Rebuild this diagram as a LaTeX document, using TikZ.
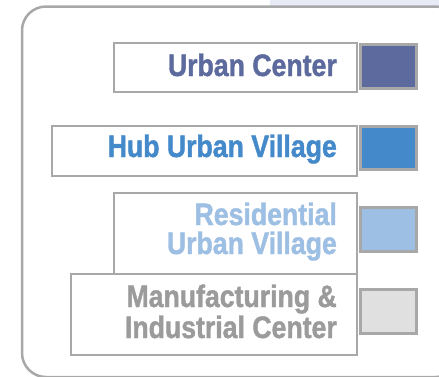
\documentclass[tikz,border=0pt]{standalone}
\usepackage{fontspec}
\setmainfont{Liberation Sans}[FakeStretch=0.86,BoldFeatures={FakeBold=1.3}]
\definecolor{bordergray}{HTML}{A8A8A8}
\definecolor{band}{HTML}{E7EBF6}
\definecolor{ucblue}{HTML}{5C6A9D}
\definecolor{hubblue}{HTML}{4489CA}
\definecolor{resblue}{HTML}{9DBFE3}
\definecolor{manufill}{HTML}{E0E0E0}
\definecolor{manutext}{HTML}{9B9B9B}
\tikzset{
  labelbox/.style={draw=bordergray, line width=2pt, fill=white, rectangle, inner sep=0pt},
  swatch/.style={draw=bordergray, line width=3pt, rectangle, inner sep=0pt, minimum width=56pt},
  labeltext/.style={anchor=base east, inner sep=0pt, font=\bfseries\fontsize{31}{31}\selectfont}
}
\begin{document}
\begin{tikzpicture}[x=1pt,y=-1pt]
\useasboundingbox (0,0) rectangle (439,376);
\clip (0,0) rectangle (439,376);
% light band at top
\fill[band] (270,0) rectangle (439,6);
% frame
\draw[bordergray, line width=2.5pt, rounded corners=24pt] (22,6.5) rectangle (460,377);
% label boxes
\node[labelbox, minimum width=242.4pt, minimum height=49.3pt] (ucbox) at (235.5,67.35) {};
\node[labelbox, minimum width=305pt, minimum height=50pt] (hubbox) at (204.2,150.7) {};
\node[labelbox, minimum width=242.4pt, minimum height=80.4pt] (resbox) at (235.5,233.5) {};
\node[labelbox, minimum width=285.7pt, minimum height=81.6pt] (manubox) at (213.85,314.5) {};
% swatches
\node[swatch, fill=ucblue, minimum height=44pt] (ucsw) at (388.5,66.5) {};
\node[swatch, fill=hubblue, minimum height=43.3pt] (hubsw) at (388.5,147.85) {};
\node[swatch, fill=resblue, minimum height=43.7pt] (ressw) at (388.5,229.35) {};
\node[swatch, fill=manufill, minimum height=44pt] (manusw) at (388.5,311.2) {};
% texts
\node[labeltext, text=ucblue] (uct) at (337,76) {Urban Center};
\node[labeltext, text=hubblue] (hubt) at (337,157) {Hub Urban Village};
\node[labeltext, text=resblue] (rest1) at (337,225) {Residential};
\node[labeltext, text=resblue] (rest2) at (337,254) {Urban Village};
\node[labeltext, text=manutext] (manut1) at (337,307) {Manufacturing \&};
\node[labeltext, text=manutext] (manut2) at (337,338) {Industrial Center};
\end{tikzpicture}
\end{document}
